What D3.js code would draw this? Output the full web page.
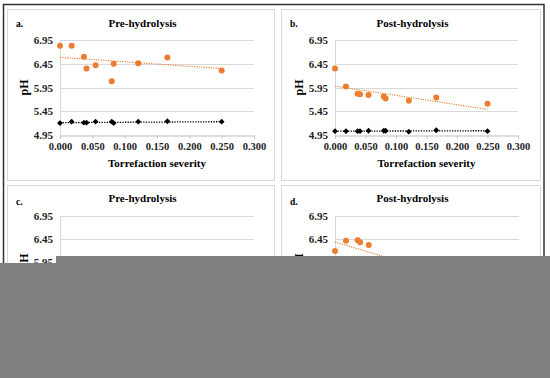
<!DOCTYPE html>
<html>
<head>
<meta charset="utf-8">
<script src="https://cdn.jsdelivr.net/npm/d3@7"></script>
<style>
  body { margin: 0; background: #fff; }
  svg { display: block; font-family: "Liberation Serif", "Times New Roman", serif; }
</style>
</head>
<body>
<div id="chart"></div>
<script>
const width = 550;
const height = 378;

// torrefaction severity of the samples
const severity = [0, 0.018, 0.037, 0.041, 0.055, 0.080, 0.083, 0.121, 0.166, 0.250];

// pH readings
const preOrange = [6.83, 6.83, 6.60, 6.35, 6.42, 6.08, 6.45, 6.46, 6.58, 6.31];
const preBlack = [5.20, 5.23, 5.21, 5.21, 5.23, 5.23, 5.20, 5.23, 5.24, 5.23];
const postOrange = [6.35, 5.97, 5.82, 5.81, 5.79, 5.76, 5.72, 5.67, 5.74, 5.61];
const postBlack = [5.03, 5.03, 5.03, 5.03, 5.04, 5.04, 5.04, 5.02, 5.05, 5.03];
const postOrangeD = [6.18, 6.40, 6.41, 6.37, 6.31];

// trend lines, pH at severity 0 and 0.25
const trendPreOrange = [6.585, 6.35];
const trendPreBlack = [5.21, 5.23];
const trendPostOrange = [5.98, 5.49];
const trendPostBlack = [5.03, 5.04];
const trendPostOrangeD = [6.375, 5.375];
const trendX = [0, 0.25];

const xTicks = [0, 0.05, 0.1, 0.15, 0.2, 0.25, 0.3];
const yTicks = [4.95, 5.45, 5.95, 6.45, 6.95];

const orange = "#ED7D31";

const svg = d3.select("#chart")
  .append("svg")
  .attr("width", width)
  .attr("height", height);

// outer frame
svg.append("rect")
  .attr("x", 3.5).attr("y", 4.5)
  .attr("width", 540.5).attr("height", 380)
  .attr("fill", "none")
  .attr("stroke", "#333")
  .attr("stroke-width", 1.5);

const panels = [
  { letter: "a.", title: "Pre-hydrolysis", box: [7, 9, 267, 171], x: [60, 254], y: [40, 135], titleY: 27, letterY: 27,
    orange: preOrange, black: preBlack, trendO: trendPreOrange, trendB: trendPreBlack, showX: true },
  { letter: "b.", title: "Post-hydrolysis", box: [281, 9, 259, 171], x: [335, 518], y: [40, 135], titleY: 27, letterY: 27,
    orange: postOrange, black: postBlack, trendO: trendPostOrange, trendB: trendPostBlack, showX: true },
  { letter: "c.", title: "Pre-hydrolysis", box: [7, 185, 267, 171], x: [60, 254], y: [215.5, 307.5], titleY: 202, letterY: 205,
    orange: [], black: [], trendO: null, trendB: null, showX: false },
  { letter: "d.", title: "Post-hydrolysis", box: [281, 185, 259, 171], x: [335, 519], y: [215.5, 307.5], titleY: 202, letterY: 205,
    orange: postOrangeD, black: [], trendO: trendPostOrangeD, trendB: null, showX: false }
];

panels.forEach(p => {
  const g = svg.append("g");

  g.append("rect")
    .attr("x", p.box[0] + 0.5).attr("y", p.box[1] + 0.5)
    .attr("width", p.box[2]).attr("height", p.box[3])
    .attr("fill", "#fff")
    .attr("stroke", "#d9d9d9");

  const x = d3.scaleLinear().domain([0, 0.3]).range(p.x);
  const y = d3.scaleLinear().domain([4.95, 6.95]).range([p.y[1], p.y[0]]);

  // gridlines
  g.selectAll(".grid")
    .data(yTicks.slice(1))
    .enter().append("line")
    .attr("x1", p.x[0]).attr("x2", p.x[1])
    .attr("y1", d => Math.round(y(d)) + 0.5).attr("y2", d => Math.round(y(d)) + 0.5)
    .attr("stroke", "#d9d9d9");

  // y axis
  const yAxis = g.append("g")
    .attr("transform", `translate(${p.x[0]},0)`)
    .call(d3.axisLeft(y).tickValues(yTicks).tickFormat(d3.format(".2f")).tickSize(0).tickPadding(7));
  yAxis.select(".domain").attr("stroke", "#d9d9d9");
  yAxis.selectAll("text")
    .attr("font-size", 11).attr("font-weight", "bold").attr("fill", "#222")
    .attr("font-family", "Liberation Serif");

  // x axis
  const xAxis = g.append("g")
    .attr("transform", `translate(0,${Math.round(p.y[1]) + 0.5})`)
    .call(d3.axisBottom(x).tickValues(xTicks).tickFormat(d3.format(".3f")).tickSize(3).tickPadding(4));
  xAxis.select(".domain").attr("stroke", "#bfbfbf");
  xAxis.selectAll("line").attr("stroke", "#bfbfbf");
  xAxis.selectAll("text")
    .attr("font-size", 10.5).attr("font-weight", "bold").attr("fill", "#222")
    .attr("font-family", "Liberation Serif");

  // titles
  g.append("text")
    .attr("x", p.box[0] + 9).attr("y", p.letterY)
    .attr("font-size", 9.5).attr("font-weight", "bold")
    .text(p.letter);
  g.append("text")
    .attr("x", p.box[0] + p.box[2] / 2 + 2).attr("y", p.titleY)
    .attr("text-anchor", "middle")
    .attr("font-size", 11).attr("font-weight", "bold")
    .text(p.title);

  g.append("text")
    .attr("transform", `translate(${p.x[0] - 32},${(p.y[0] + p.y[1]) / 2}) rotate(-90)`)
    .attr("text-anchor", "middle")
    .attr("font-size", 12).attr("font-weight", "bold")
    .text("pH");

  if (p.showX) {
    g.append("text")
      .attr("x", (p.x[0] + p.x[1]) / 2).attr("y", p.y[1] + 32)
      .attr("text-anchor", "middle")
      .attr("font-size", 11).attr("font-weight", "bold")
      .text("Torrefaction severity");
  }

  const line = d3.line().x(d => x(d[0])).y(d => y(d[1]));

  if (p.trendB) {
    g.append("path")
      .attr("d", line(trendX.map((v, i) => [v, p.trendB[i]])))
      .attr("fill", "none").attr("stroke", "#000")
      .attr("stroke-width", 1.3).attr("stroke-dasharray", "1.3,1.3");
  }
  if (p.trendO) {
    g.append("path")
      .attr("d", line(trendX.map((v, i) => [v, p.trendO[i]])))
      .attr("fill", "none").attr("stroke", orange)
      .attr("stroke-width", 1.1).attr("stroke-dasharray", "1.2,1.2");
  }

  // black diamonds
  g.selectAll(".dia")
    .data(p.black)
    .enter().append("path")
    .attr("d", d3.symbol(d3.symbolSquare, 17))
    .attr("transform", (d, i) => `translate(${x(severity[i])},${y(d)}) rotate(45)`)
    .attr("fill", "#000");

  // orange circles
  g.selectAll(".dot")
    .data(p.orange)
    .enter().append("circle")
    .attr("cx", (d, i) => x(severity[i]))
    .attr("cy", d => y(d))
    .attr("r", 3)
    .attr("fill", orange);
});

// grey block covering the lower part of the figure
svg.append("path")
  .attr("d", "M56,256H550V378H0V263H56Z")
  .attr("fill", "#7f7f7f");
</script>
</body>
</html>
